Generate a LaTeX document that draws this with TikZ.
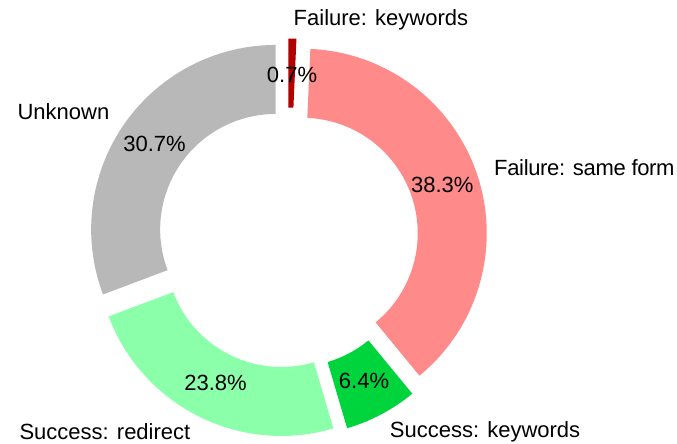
\documentclass[tikz,border=0pt]{standalone}
\usepackage{fontspec}
\setmainfont{Liberation Sans}
\newfontfamily\narrowfont[LetterSpace=-1.5]{Liberation Sans}

\definecolor{unknowncol}{RGB}{184,184,184}
\definecolor{failkwcol}{RGB}{176,0,0}
\definecolor{failformcol}{RGB}{255,138,138}
\definecolor{succkwcol}{RGB}{0,212,60}
\definecolor{succredircol}{RGB}{140,255,170}

\tikzset{
  txt/.style={font=\fontsize{22}{26}\selectfont, inner sep=0pt, text=black},
  narrowtxt/.style={txt, font=\fontsize{22}{26}\selectfont\narrowfont},
  pct/.style={txt, anchor=base},
}

% One ring slice: colour, start angle, end angle (counter-clockwise),
% pushed outward along its middle angle.
\newcommand\donutslice[3]{%
  \pgfmathsetmacro\midang{(#2+#3)/2}%
  \fill[#1, shift={(\midang:15pt)}]
    (#2:184.5pt) arc[start angle=#2, end angle=#3, radius=184.5pt]
    -- (#3:115.5pt) arc[start angle=#3, end angle=#2, radius=115.5pt]
    -- cycle;%
}

\begin{document}
\begin{tikzpicture}[x=1pt, y=1pt]
  \useasboundingbox (-288,-206) rectangle (389,238);

  % slices, clockwise from the top
  \donutslice{failkwcol}{87.4775}{90}
  \donutslice{failformcol}{-50.540}{87.4775}
  \donutslice{succkwcol}{-73.603}{-50.540}
  \donutslice{succredircol}{-159.369}{-73.603}
  \donutslice{unknowncol}{-270}{-159.369}

  % category labels
  \node[txt, anchor=base west] (lfk) at (5.5,212) {Failure: keywords};
  \node[narrowtxt, anchor=base west] (lfs) at (206,62.3) {Failure: same form};
  \node[txt, anchor=base west] (lsk) at (101.7,-199.3) {Success: keywords};
  \node[txt, anchor=base east] (lsr) at (-97.5,-201) {Success: redirect};
  \node[txt, anchor=base east] (lun) at (-178.5,118) {Unknown};

  % percentages
  \node[pct] (pfk) at (4,155.3) {0.7\%};
  \node[pct] (pfs) at (154.3,45) {38.3\%};
  \node[pct] (psk) at (76,-150.3) {6.4\%};
  \node[pct] (psr) at (-72.5,-152.7) {23.8\%};
  \node[pct] (pun) at (-133.5,86.3) {30.7\%};
\end{tikzpicture}
\end{document}
